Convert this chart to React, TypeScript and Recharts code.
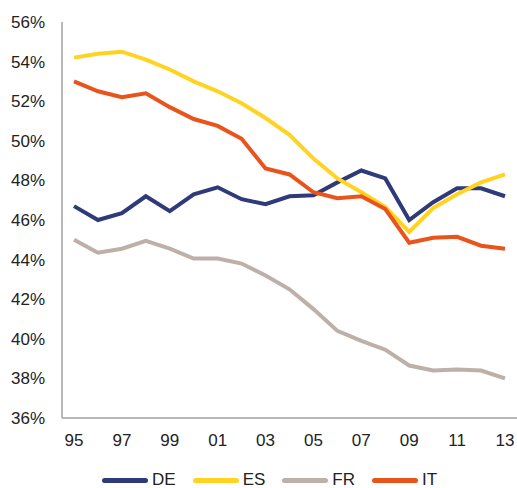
import React from "react";
import { LineChart, Line, XAxis, YAxis, Legend } from "recharts";

const years = ["95", "96", "97", "98", "99", "00", "01", "02", "03", "04", "05", "06", "07", "08", "09", "10", "11", "12", "13"];

const de = [46.7, 46.0, 46.35, 47.2, 46.45, 47.3, 47.65, 47.05, 46.8, 47.2, 47.25, 47.9, 48.5, 48.1, 46.0, 46.9, 47.6, 47.6, 47.2];
const es = [54.2, 54.4, 54.5, 54.1, 53.6, 53.0, 52.5, 51.9, 51.15, 50.3, 49.1, 48.1, 47.4, 46.65, 45.4, 46.6, 47.3, 47.9, 48.3];
const fr = [45.0, 44.35, 44.55, 44.95, 44.55, 44.05, 44.05, 43.8, 43.2, 42.5, 41.5, 40.4, 39.9, 39.45, 38.65, 38.4, 38.45, 38.4, 38.0];
const it = [53.0, 52.5, 52.2, 52.4, 51.7, 51.1, 50.75, 50.1, 48.6, 48.3, 47.4, 47.1, 47.2, 46.55, 44.85, 45.1, 45.15, 44.7, 44.55];

const yTicks = [36, 38, 40, 42, 44, 46, 48, 50, 52, 54, 56];

const series = [
  { key: "DE", color: "#2F3A78" },
  { key: "ES", color: "#FFD320" },
  { key: "FR", color: "#BDB0A8" },
  { key: "IT", color: "#E9541C" },
];

const data = years.map((y, i) => ({ year: y, DE: de[i], ES: es[i], FR: fr[i], IT: it[i] }));

const FONT = "'Liberation Sans', Arial, sans-serif";

function ChartLegend() {
  return (
    <div style={{ display: "flex", alignItems: "center", height: 16, paddingLeft: 102, fontFamily: FONT, fontSize: 17, color: "#222" }}>
      {series.map((s) => (
        <div key={s.key} style={{ display: "flex", alignItems: "center", marginRight: 17, lineHeight: "16px" }}>
          <span style={{ display: "inline-block", width: 46, height: 5, borderRadius: 3, background: s.color, marginRight: 4 }} />
          <span>{s.key}</span>
        </div>
      ))}
    </div>
  );
}

export default function App() {
  return (
    <div style={{ position: "absolute", left: 0, top: 0, width: 517, height: 488, background: "#fff" }}>
      <LineChart width={517} height={488} data={data} margin={{ top: 22, right: 0, bottom: 0, left: 0 }}>
        <XAxis
          dataKey="year"
          interval={1}
          height={54}
          padding={{ left: 12, right: 12 }}
          tickLine={false}
          tickMargin={10}
          axisLine={{ stroke: "#A0A0A0", strokeWidth: 1.5 }}
          tick={{ fontSize: 17, fill: "#222", fontFamily: FONT }}
        />
        <YAxis
          domain={[36, 56]}
          ticks={yTicks}
          width={62}
          tickLine={false}
          tickMargin={11}
          tickFormatter={(v) => `${v}%`}
          axisLine={{ stroke: "#A0A0A0", strokeWidth: 1.5 }}
          tick={{ fontSize: 17, fill: "#222", fontFamily: FONT }}
        />
        <Legend
          verticalAlign="bottom"
          content={<ChartLegend />}
          wrapperStyle={{ top: 472, left: 0, width: 517, height: 16 }}
        />
        {series.map((s) => (
          <Line
            key={s.key}
            type="linear"
            dataKey={s.key}
            stroke={s.color}
            strokeWidth={4}
            dot={false}
            isAnimationActive={false}
          />
        ))}
      </LineChart>
    </div>
  );
}
